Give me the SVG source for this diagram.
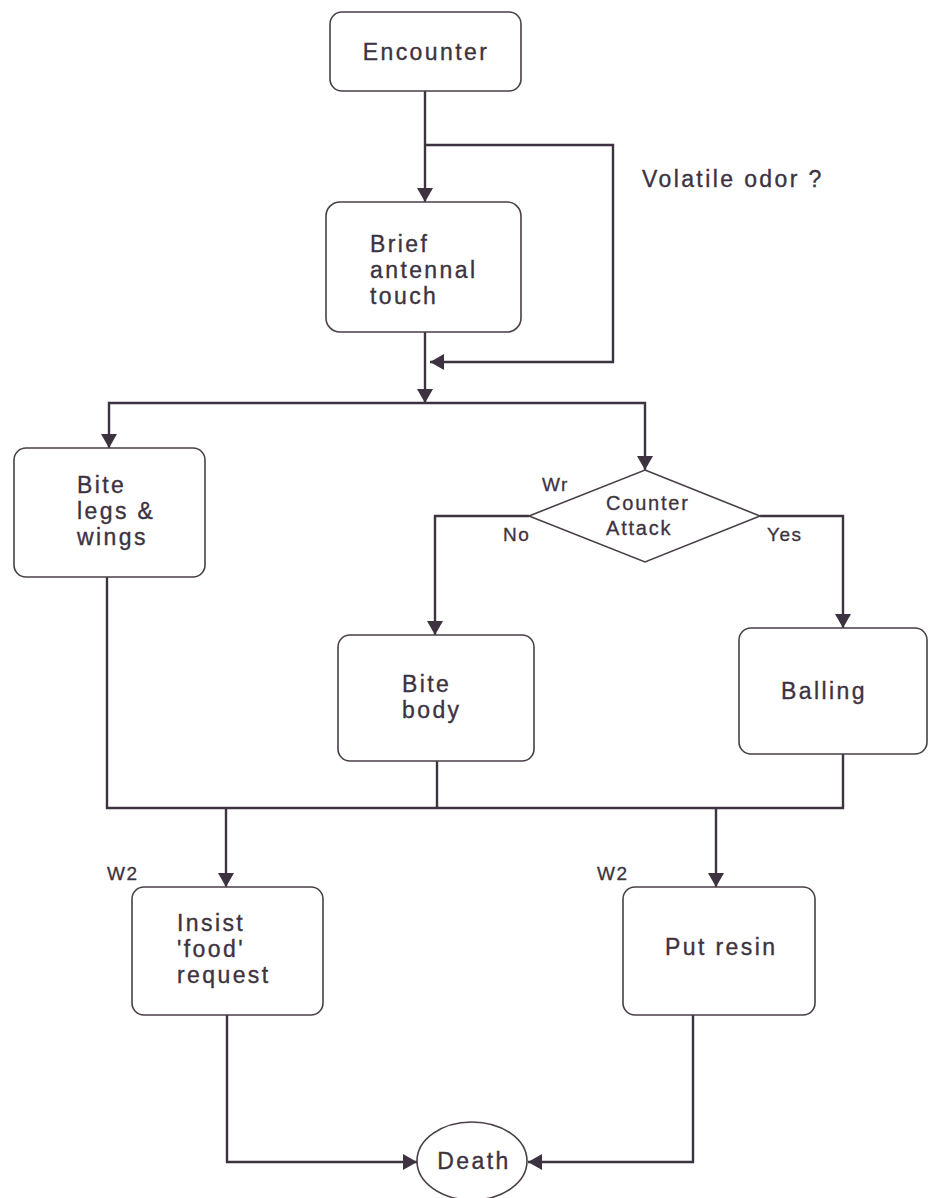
<svg xmlns="http://www.w3.org/2000/svg" width="930" height="1198" viewBox="0 0 930 1198">
<style>
.box{fill:#fff;stroke:#4a3f48;stroke-width:1.6}
.ln{fill:none;stroke:#3d3340;stroke-width:2.4}
.t{font-family:"Liberation Sans",Arial,sans-serif;font-size:23px;letter-spacing:2.4px;fill:#3d3340;stroke:#3d3340;stroke-width:0.35}
.s{font-family:"Liberation Sans",Arial,sans-serif;font-size:20px;letter-spacing:1.8px;fill:#3d3340;stroke:#3d3340;stroke-width:0.3}
.w{font-family:"Liberation Sans",Arial,sans-serif;font-size:19px;letter-spacing:1.5px;fill:#3d3340;stroke:#3d3340;stroke-width:0.3}
</style>
<defs>
<marker id="ah" viewBox="0 0 14 16" refX="14" refY="8" markerWidth="14" markerHeight="16" markerUnits="userSpaceOnUse" orient="auto">
<path d="M0,0 L14,8 L0,16 Z" fill="#3d3340"/>
</marker>
</defs>
<rect width="930" height="1198" fill="#fff"/>
<g id="connectors">
<path class="ln" d="M425,91 V202" marker-end="url(#ah)"/>
<path class="ln" d="M425,145 H613 V362 H430" marker-end="url(#ah)"/>
<path class="ln" d="M425,332 V403" marker-end="url(#ah)"/>
<path class="ln" d="M425,403 H109 V448" marker-end="url(#ah)"/>
<path class="ln" d="M425,403 H645 V470" marker-end="url(#ah)"/>
<path class="ln" d="M529,516 H435 V635" marker-end="url(#ah)"/>
<path class="ln" d="M760,516 H843 V628" marker-end="url(#ah)"/>
<path class="ln" d="M107,577 V808 H843 V754"/>
<path class="ln" d="M437,761 V808"/>
<path class="ln" d="M226,808 V887" marker-end="url(#ah)"/>
<path class="ln" d="M716,808 V887" marker-end="url(#ah)"/>
<path class="ln" d="M227,1015 V1162 H417" marker-end="url(#ah)"/>
<path class="ln" d="M693,1015 V1162 H528" marker-end="url(#ah)"/>
</g>
<g id="encounter">
<rect class="box" x="330" y="12" width="191" height="79" rx="12"/>
<text class="t" x="426" y="60" text-anchor="middle">Encounter</text>
</g>
<g id="volatile">
<text class="t" x="642" y="187">Volatile odor ?</text>
</g>
<g id="brief">
<rect class="box" x="326" y="202" width="195" height="130" rx="14"/>
<text class="t" x="370" y="252">Brief</text>
<text class="t" x="370" y="278">antennal</text>
<text class="t" x="370" y="304">touch</text>
</g>
<g id="bitelegs">
<rect class="box" x="14" y="448" width="191" height="129" rx="12"/>
<text class="t" x="77" y="493">Bite</text>
<text class="t" x="77" y="519">legs &amp;</text>
<text class="t" x="77" y="545">wings</text>
</g>
<g id="counter">
<polygon class="box" points="645,470 760,516 645,562 529,516"/>
<text class="s" x="606" y="510">Counter</text>
<text class="s" x="606" y="535">Attack</text>
<text class="w" x="542" y="491">Wr</text>
<text class="w" x="503" y="541">No</text>
<text class="w" x="767" y="541">Yes</text>
</g>
<g id="bitebody">
<rect class="box" x="338" y="635" width="196" height="126" rx="12"/>
<text class="t" x="402" y="692">Bite</text>
<text class="t" x="402" y="718">body</text>
</g>
<g id="balling">
<rect class="box" x="739" y="628" width="188" height="126" rx="12"/>
<text class="t" x="781" y="699">Balling</text>
</g>
<g id="insist">
<rect class="box" x="132" y="887" width="191" height="128" rx="12"/>
<text class="w" x="107" y="880">W2</text>
<text class="t" x="177" y="931">Insist</text>
<text class="t" x="177" y="957">'food'</text>
<text class="t" x="177" y="983">request</text>
</g>
<g id="putresin">
<rect class="box" x="623" y="887" width="192" height="128" rx="12"/>
<text class="w" x="597" y="880">W2</text>
<text class="t" x="665" y="955">Put resin</text>
</g>
<g id="death">
<ellipse class="box" cx="472" cy="1161" rx="55" ry="39"/>
<text class="t" x="474" y="1169" text-anchor="middle">Death</text>
</g>
</svg>
